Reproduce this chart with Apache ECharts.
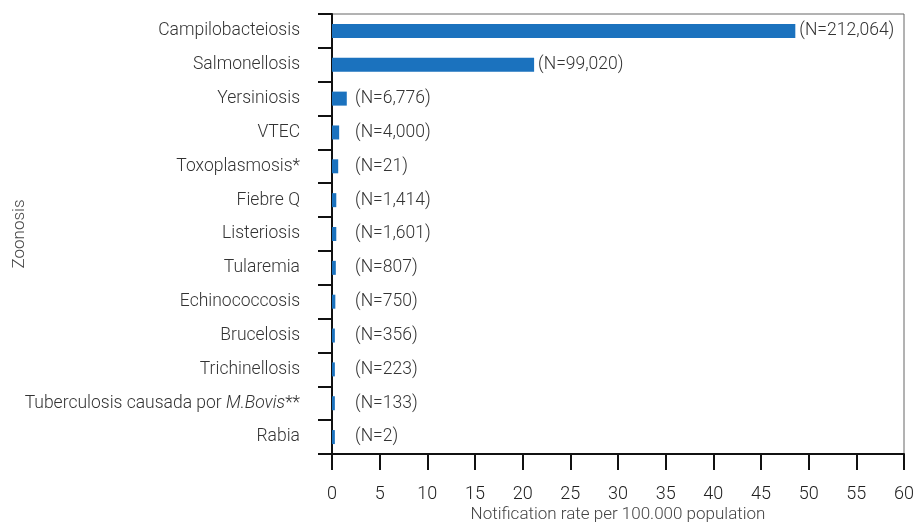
<!DOCTYPE html>
<html>
<head>
<meta charset="utf-8">
<script src="https://cdn.jsdelivr.net/npm/echarts@6/dist/echarts.min.js"></script>
<style>
  html, body { margin: 0; padding: 0; background: #fff; }
  #main { width: 919px; height: 522px; }
</style>
</head>
<body>
<div id="main"></div>
<script>
// categories, top to bottom
var diseases = [
  'Campilobacteiosis', 'Salmonellosis', 'Yersiniosis', 'VTEC', 'Toxoplasmosis*',
  'Fiebre Q', 'Listeriosis', 'Tularemia', 'Echinococcosis', 'Brucelosis',
  'Trichinellosis', 'Tuberculosis causada por {i|M.Bovis}**', 'Rabia'
];
// notification rate per 100.000 population
var rates = [48.6, 21.2, 1.55, 0.75, 0.65, 0.45, 0.45, 0.4, 0.35, 0.3, 0.3, 0.3, 0.3];
// number of cases shown next to each bar
var counts = ['212,064', '99,020', '6,776', '4,000', '21', '1,414', '1,601', '807', '750', '356', '223', '133', '2'];
var xTicks = [0, 60, 5];

// small bars get their label pushed to a common minimum position
var labelFloor = 2.0;
var labelPos = rates.map(function (v) { return Math.max(v, labelFloor); });

var myChart = echarts.init(document.getElementById('main'));
var font = 'Roboto, "Noto Sans", sans-serif';

var option = {
  animation: false,
  textStyle: { fontFamily: font },
  grid: {
    left: 332, right: 15, top: 14, bottom: 68,
    show: true, borderColor: '#666', borderWidth: 1,
    containLabel: false, outerBoundsMode: 'none'
  },
  xAxis: {
    type: 'value',
    min: xTicks[0], max: xTicks[1], interval: xTicks[2],
    name: 'Notification rate per 100.000 population',
    nameLocation: 'middle', nameGap: 52, nameMoveOverlap: false,
    nameTextStyle: { fontSize: 17, color: '#444', fontWeight: 300, fontFamily: font },
    axisLine: { show: true, lineStyle: { color: '#111', width: 2 } },
    axisTick: { show: true, length: 16, lineStyle: { color: '#111', width: 2 } },
    axisLabel: { fontSize: 18, color: '#222', fontWeight: 300, margin: 31, fontFamily: font },
    splitLine: { show: false }
  },
  yAxis: {
    type: 'category',
    inverse: true,
    data: diseases,
    name: 'Zoonosis',
    nameLocation: 'middle', nameGap: 304, nameRotate: 90, nameMoveOverlap: false,
    nameTextStyle: { fontSize: 17, color: '#444', fontWeight: 300, fontFamily: font },
    axisLine: { show: true, lineStyle: { color: '#111', width: 2 } },
    axisTick: { show: true, length: 14, lineStyle: { color: '#111', width: 2 } },
    axisLabel: {
      fontSize: 17.5, color: '#333', fontWeight: 300, margin: 32, fontFamily: font,
      rich: { i: { fontSize: 17.5, color: '#333', fontWeight: 300, fontStyle: 'italic', fontFamily: font } }
    }
  },
  series: [
    {
      type: 'bar',
      data: rates,
      barWidth: 14,
      itemStyle: { color: '#1b72be' },
      silent: true
    },
    {
      // invisible bars that carry the (N=...) labels
      type: 'bar',
      data: labelPos,
      barWidth: 14,
      barGap: '-100%',
      itemStyle: { color: 'rgba(0,0,0,0)' },
      silent: true,
      z: 1,
      label: {
        show: true, position: 'right', distance: 4,
        fontSize: 17.5, color: '#333', fontWeight: 300, fontFamily: font,
        formatter: function (p) { return '(N=' + counts[p.dataIndex] + ')'; }
      }
    }
  ]
};

myChart.setOption(option);
</script>
</body>
</html>
